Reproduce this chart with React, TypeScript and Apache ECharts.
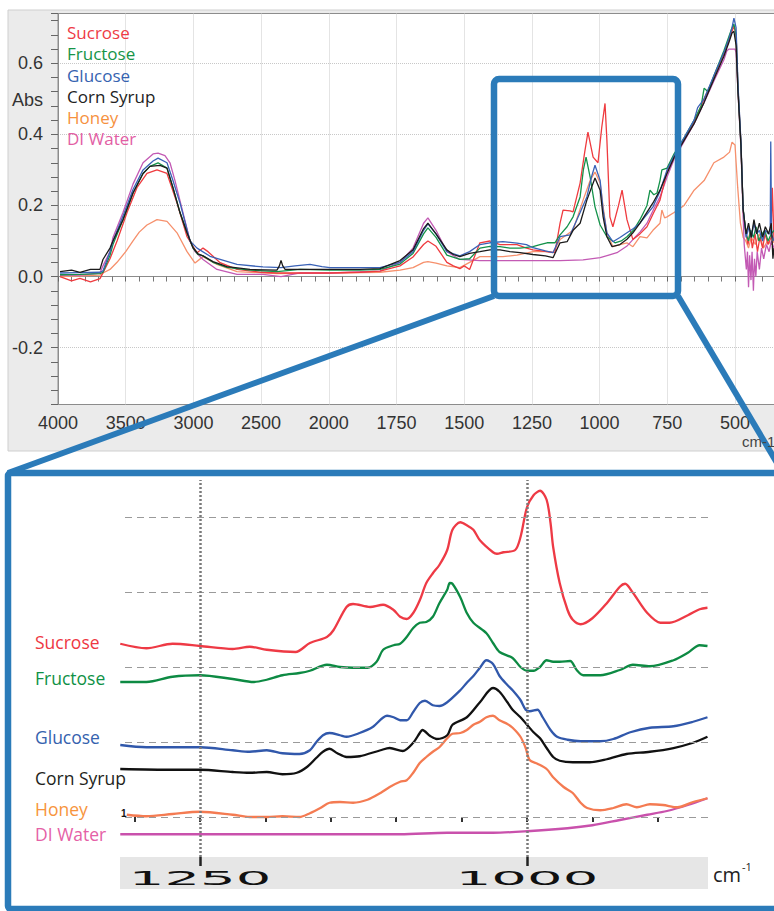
import React, { useEffect, useRef } from 'react';
import * as echarts from 'echarts';

type Pt = [number, number];

// ---------- Top (full spectrum) data: [wavenumber cm-1, Abs] ----------
const TOP_X_TICK_LABELS = [4000, 3500, 3000, 2500, 2000, 1750, 1500, 1250, 1000, 750, 500];

const TOP_SUCROSE: Pt[] = [
  [3985, 0.0], [3900, -0.012], [3838, -0.005], [3760, -0.015], [3690, -0.006], [3668, 0.01], [3616, 0.05], [3564, 0.10],
  [3490, 0.18], [3417, 0.25], [3343, 0.29], [3269, 0.30], [3195, 0.29], [3121, 0.207], [3047, 0.112], [2973, 0.067],
  [2929, 0.08], [2892, 0.07], [2803, 0.039], [2678, 0.02], [2500, 0.012], [2383, 0.01], [2212, 0.01], [1996, 0.01],
  [1885, 0.012], [1811, 0.015], [1737, 0.03], [1689, 0.055], [1650, 0.09], [1634, 0.10], [1604, 0.085], [1564, 0.04],
  [1540, 0.03], [1516, 0.022], [1500, 0.03], [1480, 0.02], [1460, 0.06], [1442, 0.095], [1405, 0.1], [1368, 0.09],
  [1331, 0.09], [1305, 0.09], [1270, 0.08], [1246, 0.075], [1194, 0.07], [1165, 0.067], [1146, 0.15], [1135, 0.187],
  [1109, 0.185], [1098, 0.182], [1072, 0.263], [1055, 0.35], [1043, 0.406], [1024, 0.336], [1006, 0.32], [992, 0.42],
  [980, 0.487], [973, 0.383], [962, 0.168], [951, 0.14], [930, 0.2], [917, 0.243], [899, 0.16], [877, 0.104],
  [851, 0.12], [825, 0.14], [800, 0.18], [777, 0.215], [751, 0.295], [725, 0.335], [688, 0.385], [651, 0.435],
  [614, 0.50], [578, 0.56], [541, 0.625], [511, 0.69], [504, 0.705], [496, 0.68], [489, 0.53], [478, 0.375],
  [470, 0.187], [459, 0.12], [452, 0.09], [444, 0.13], [436, 0.08], [426, 0.12], [417, 0.07], [408, 0.11],
  [398, 0.08], [389, 0.12], [378, 0.09], [367, 0.11], [362, 0.25], [356, 0.1],
];

const TOP_FRUCTOSE: Pt[] = [
  [3985, 0.005], [3838, 0.006], [3690, 0.008], [3668, 0.012], [3616, 0.06], [3594, 0.09], [3520, 0.16], [3446, 0.235],
  [3372, 0.29], [3321, 0.31], [3261, 0.32], [3195, 0.305], [3151, 0.25], [3099, 0.18], [3047, 0.123], [3003, 0.081],
  [2966, 0.062], [2929, 0.058], [2855, 0.04], [2752, 0.026], [2582, 0.018], [2383, 0.014], [2212, 0.02], [1996, 0.018],
  [1885, 0.018], [1811, 0.02], [1737, 0.035], [1689, 0.065], [1650, 0.12], [1634, 0.137], [1604, 0.11], [1564, 0.06],
  [1516, 0.048], [1480, 0.05], [1442, 0.08], [1405, 0.085], [1368, 0.084], [1331, 0.08], [1294, 0.08], [1246, 0.084],
  [1220, 0.09], [1194, 0.095], [1165, 0.095], [1146, 0.117], [1120, 0.14], [1098, 0.168], [1072, 0.224], [1060, 0.30],
  [1050, 0.336], [1035, 0.28], [1017, 0.196], [998, 0.145], [973, 0.112], [943, 0.095], [920, 0.10], [899, 0.112],
  [875, 0.13], [851, 0.16], [825, 0.20], [814, 0.243], [800, 0.23], [788, 0.235], [777, 0.27], [770, 0.30],
  [751, 0.305], [725, 0.345], [688, 0.39], [651, 0.44], [625, 0.48], [614, 0.53], [600, 0.52], [578, 0.565],
  [541, 0.635], [511, 0.70], [504, 0.71], [496, 0.68], [489, 0.53], [478, 0.37], [470, 0.19], [459, 0.12],
  [450, 0.10], [442, 0.13], [432, 0.11], [422, 0.14], [412, 0.10], [400, 0.12], [390, 0.13], [378, 0.10],
  [366, 0.12], [356, 0.13],
];

const TOP_GLUCOSE: Pt[] = [
  [3985, 0.01], [3838, 0.011], [3690, 0.012], [3668, 0.016], [3616, 0.07], [3594, 0.1], [3520, 0.17], [3446, 0.245],
  [3372, 0.30], [3298, 0.325], [3261, 0.333], [3195, 0.32], [3151, 0.27], [3099, 0.207], [3025, 0.10], [2973, 0.08],
  [2877, 0.057], [2678, 0.034], [2486, 0.027], [2353, 0.025], [2250, 0.03], [2139, 0.034], [2050, 0.028], [1996, 0.025],
  [1811, 0.025], [1737, 0.04], [1689, 0.07], [1650, 0.13], [1634, 0.148], [1604, 0.12], [1564, 0.07], [1516, 0.058],
  [1480, 0.07], [1442, 0.09], [1405, 0.095], [1357, 0.098], [1305, 0.094], [1270, 0.09], [1246, 0.081], [1200, 0.072],
  [1172, 0.067], [1146, 0.112], [1109, 0.117], [1072, 0.18], [1047, 0.224], [1030, 0.28], [1017, 0.313], [998, 0.27],
  [987, 0.187], [973, 0.123], [951, 0.098], [925, 0.11], [899, 0.123], [875, 0.135], [851, 0.15], [803, 0.196],
  [777, 0.24], [751, 0.30], [725, 0.34], [688, 0.39], [651, 0.44], [638, 0.475], [614, 0.50], [578, 0.565],
  [541, 0.63], [522, 0.67], [511, 0.70], [504, 0.727], [496, 0.70], [489, 0.54], [478, 0.38], [470, 0.19],
  [459, 0.11], [448, 0.14], [440, 0.11], [430, 0.15], [420, 0.12], [410, 0.13], [398, 0.10], [388, 0.13],
  [376, 0.12], [370, 0.12], [368, 0.38], [365, 0.12], [356, 0.10],
];

const TOP_CORN_SYRUP: Pt[] = [
  [3985, 0.014], [3900, 0.018], [3838, 0.012], [3760, 0.02], [3690, 0.02], [3668, 0.048], [3616, 0.08], [3594, 0.10],
  [3520, 0.16], [3446, 0.235], [3372, 0.29], [3321, 0.31], [3247, 0.313], [3195, 0.305], [3151, 0.25], [3099, 0.18],
  [3047, 0.123], [3003, 0.081], [2966, 0.064], [2929, 0.058], [2855, 0.042], [2752, 0.028], [2582, 0.02], [2383, 0.018],
  [2365, 0.03], [2353, 0.045], [2340, 0.03], [2323, 0.02], [2212, 0.02], [1996, 0.02], [1885, 0.02], [1811, 0.022],
  [1737, 0.045], [1689, 0.075], [1650, 0.135], [1634, 0.15], [1604, 0.12], [1564, 0.075], [1540, 0.062], [1516, 0.056],
  [1480, 0.065], [1442, 0.07], [1405, 0.075], [1368, 0.075], [1331, 0.07], [1294, 0.067], [1246, 0.062], [1200, 0.058],
  [1172, 0.053], [1146, 0.095], [1120, 0.098], [1098, 0.13], [1072, 0.15], [1047, 0.215], [1017, 0.277], [998, 0.243],
  [987, 0.168], [973, 0.112], [954, 0.084], [925, 0.09], [899, 0.105], [877, 0.123], [851, 0.15], [803, 0.207],
  [777, 0.243], [751, 0.29], [725, 0.335], [688, 0.383], [651, 0.43], [614, 0.49], [578, 0.555], [541, 0.62],
  [522, 0.66], [511, 0.685], [504, 0.69], [496, 0.65], [489, 0.52], [478, 0.37], [470, 0.19], [459, 0.12],
  [450, 0.15], [440, 0.11], [430, 0.16], [420, 0.12], [410, 0.15], [398, 0.11], [388, 0.14], [376, 0.12],
  [366, 0.15], [360, 0.05], [356, 0.08],
];

const TOP_HONEY: Pt[] = [
  [3985, 0.0], [3838, 0.002], [3690, 0.004], [3668, 0.01], [3616, 0.02], [3564, 0.04], [3500, 0.07], [3446, 0.10],
  [3400, 0.125], [3343, 0.145], [3269, 0.16], [3195, 0.155], [3121, 0.123], [3047, 0.07], [2988, 0.038], [2929, 0.056],
  [2880, 0.045], [2826, 0.034], [2678, 0.014], [2383, 0.008], [1996, 0.01], [1811, 0.012], [1737, 0.018], [1689, 0.025],
  [1650, 0.04], [1634, 0.042], [1604, 0.038], [1564, 0.03], [1516, 0.025], [1480, 0.04], [1442, 0.056], [1357, 0.056],
  [1305, 0.06], [1246, 0.07], [1200, 0.07], [1172, 0.067], [1146, 0.104], [1098, 0.13], [1061, 0.215], [1035, 0.27],
  [1017, 0.294], [998, 0.263], [987, 0.196], [973, 0.123], [951, 0.084], [925, 0.09], [899, 0.095], [877, 0.084],
  [851, 0.112], [825, 0.109], [803, 0.13], [777, 0.15], [770, 0.187], [760, 0.165], [751, 0.168], [725, 0.18],
  [688, 0.20], [651, 0.243], [614, 0.27], [578, 0.32], [541, 0.336], [520, 0.35], [511, 0.378], [500, 0.37],
  [490, 0.25], [480, 0.15], [470, 0.11], [460, 0.10], [450, 0.08], [440, 0.11], [425, 0.09], [410, 0.12],
  [395, 0.08], [380, 0.10], [365, 0.09], [356, 0.1],
];

const TOP_DI_WATER: Pt[] = [
  [3985, 0.003], [3838, 0.004], [3690, 0.01], [3668, 0.03], [3616, 0.07], [3594, 0.11], [3520, 0.18], [3446, 0.26],
  [3372, 0.32], [3298, 0.345], [3261, 0.347], [3210, 0.34], [3173, 0.32], [3136, 0.27], [3077, 0.18], [3025, 0.10],
  [2988, 0.07], [2929, 0.048], [2826, 0.02], [2678, 0.006], [2486, 0.006], [2353, 0.0], [2212, 0.01], [1996, 0.01],
  [1811, 0.015], [1737, 0.04], [1689, 0.08], [1650, 0.15], [1634, 0.165], [1604, 0.13], [1564, 0.07], [1516, 0.048],
  [1442, 0.045], [1305, 0.045], [1146, 0.045], [1061, 0.047], [998, 0.053], [936, 0.067], [900, 0.085], [877, 0.104],
  [851, 0.125], [825, 0.15], [800, 0.19], [777, 0.224], [751, 0.28], [725, 0.33], [688, 0.38], [651, 0.43],
  [614, 0.49], [578, 0.55], [541, 0.61], [530, 0.635], [522, 0.64], [500, 0.64], [496, 0.63], [489, 0.52],
  [478, 0.36], [470, 0.17], [466, 0.09], [458, 0.02], [454, 0.07], [450, -0.03], [446, 0.06], [441, -0.01],
  [437, 0.07], [432, -0.04], [428, 0.05], [423, 0.0], [418, 0.07], [410, 0.02], [402, 0.08], [394, 0.05],
  [384, 0.09], [374, 0.07], [366, 0.1], [356, 0.08],
];

// ---------- Bottom (zoomed, offset) data: [wavenumber cm-1, offset units] ----------
const ZOOM_X_TICKS = [1300, 1250, 1200, 1150, 1100, 1050, 1000, 950, 900];
const ZOOM_X_LABELS = [1250, 1000];
const ZOOM_OFFSET_LINES = [0, 1, 2, 3, 4];

const ZOOM_SUCROSE: Pt[] = [
  [1311, 2.31], [1291, 2.25], [1271, 2.31], [1250, 2.28], [1225, 2.24], [1212, 2.27], [1199, 2.23], [1177, 2.20],
  [1166, 2.32], [1153, 2.40], [1148, 2.49], [1138, 2.80], [1133, 2.84], [1120, 2.80], [1110, 2.83], [1102, 2.76],
  [1097, 2.67], [1092, 2.64], [1087, 2.72], [1082, 2.89], [1077, 3.12], [1072, 3.25], [1067, 3.36], [1061, 3.56],
  [1057, 3.83], [1051, 3.93], [1046, 3.89], [1041, 3.83], [1036, 3.69], [1026, 3.53], [1023, 3.51], [1018, 3.53],
  [1009, 3.56], [1005, 3.73], [1000, 4.13], [995, 4.29], [990, 4.35], [985, 4.23], [982, 3.92], [980, 3.60],
  [975, 3.12], [969, 2.76], [965, 2.63], [959, 2.57], [950, 2.65], [939, 2.85], [929, 3.07], [925, 3.11],
  [919, 2.99], [908, 2.72], [898, 2.59], [891, 2.59], [877, 2.69], [868, 2.77], [862, 2.79],
];

const ZOOM_FRUCTOSE: Pt[] = [
  [1311, 1.80], [1291, 1.80], [1271, 1.87], [1250, 1.89], [1225, 1.84], [1209, 1.80], [1199, 1.83], [1187, 1.89],
  [1174, 1.92], [1166, 1.95], [1153, 2.03], [1143, 2.00], [1133, 1.99], [1122, 1.99], [1115, 2.07], [1110, 2.23],
  [1102, 2.29], [1097, 2.31], [1092, 2.40], [1087, 2.52], [1082, 2.59], [1077, 2.60], [1072, 2.67], [1067, 2.85],
  [1061, 3.03], [1059, 3.12], [1057, 3.11], [1051, 2.93], [1046, 2.72], [1041, 2.59], [1031, 2.45], [1026, 2.32],
  [1021, 2.20], [1011, 2.12], [1005, 2.00], [1000, 1.95], [995, 1.95], [990, 2.00], [985, 2.09], [980, 2.07],
  [975, 2.07], [967, 2.08], [962, 1.96], [957, 1.89], [944, 1.89], [929, 1.96], [919, 2.03], [906, 2.01],
  [888, 2.09], [877, 2.19], [868, 2.29], [862, 2.28],
];

const ZOOM_GLUCOSE: Pt[] = [
  [1311, 0.96], [1291, 0.93], [1250, 0.93], [1225, 0.89], [1212, 0.87], [1199, 0.89], [1187, 0.85], [1174, 0.84],
  [1166, 0.89], [1161, 1.00], [1156, 1.09], [1151, 1.12], [1143, 1.09], [1138, 1.07], [1128, 1.12], [1118, 1.20],
  [1107, 1.35], [1102, 1.33], [1097, 1.29], [1092, 1.29], [1087, 1.40], [1082, 1.52], [1078, 1.55], [1072, 1.49],
  [1067, 1.48], [1061, 1.53], [1051, 1.69], [1046, 1.79], [1041, 1.88], [1036, 1.99], [1031, 2.09], [1026, 2.04],
  [1021, 1.88], [1015, 1.76], [1011, 1.69], [1005, 1.56], [1001, 1.43], [998, 1.41], [992, 1.43], [988, 1.33],
  [982, 1.16], [977, 1.07], [969, 1.03], [959, 1.01], [944, 1.01], [934, 1.04], [921, 1.13], [906, 1.19],
  [888, 1.21], [873, 1.27], [862, 1.33],
];

const ZOOM_CORN_SYRUP: Pt[] = [
  [1311, 0.64], [1271, 0.63], [1250, 0.63], [1225, 0.60], [1212, 0.59], [1199, 0.60], [1187, 0.57], [1176, 0.59],
  [1168, 0.67], [1161, 0.79], [1156, 0.87], [1151, 0.91], [1145, 0.85], [1138, 0.80], [1128, 0.81], [1112, 0.89],
  [1105, 0.92], [1095, 0.88], [1087, 0.99], [1082, 1.12], [1080, 1.16], [1074, 1.08], [1069, 1.04], [1061, 1.09],
  [1057, 1.23], [1046, 1.33], [1036, 1.53], [1026, 1.72], [1021, 1.67], [1015, 1.53], [1011, 1.43], [1005, 1.33],
  [1000, 1.23], [995, 1.13], [990, 1.05], [985, 0.92], [980, 0.80], [975, 0.75], [965, 0.73], [952, 0.73],
  [939, 0.77], [924, 0.84], [906, 0.87], [888, 0.92], [873, 0.99], [862, 1.07],
];

const ZOOM_HONEY: Pt[] = [
  [1306, 0.03], [1291, 0.01], [1271, 0.04], [1250, 0.07], [1225, 0.03], [1212, 0.0], [1199, 0.0], [1187, 0.01],
  [1174, 0.0], [1166, 0.05], [1158, 0.12], [1151, 0.19], [1143, 0.20], [1133, 0.19], [1122, 0.23], [1112, 0.32],
  [1105, 0.40], [1097, 0.47], [1092, 0.49], [1087, 0.59], [1082, 0.72], [1077, 0.80], [1072, 0.87], [1067, 0.93],
  [1061, 1.05], [1057, 1.11], [1051, 1.12], [1046, 1.16], [1041, 1.23], [1036, 1.27], [1031, 1.33], [1026, 1.35],
  [1021, 1.29], [1015, 1.24], [1011, 1.19], [1005, 1.07], [1001, 0.92], [998, 0.76], [992, 0.71], [985, 0.64],
  [980, 0.53], [972, 0.40], [965, 0.32], [959, 0.19], [954, 0.12], [944, 0.09], [934, 0.12], [924, 0.17],
  [916, 0.13], [906, 0.17], [896, 0.16], [885, 0.13], [873, 0.20], [862, 0.25],
];

const ZOOM_DI_WATER: Pt[] = [
  [1311, -0.23], [1250, -0.23], [1174, -0.23], [1097, -0.23], [1061, -0.21], [1026, -0.21], [1000, -0.19],
  [969, -0.15], [950, -0.11], [929, -0.04], [908, 0.03], [893, 0.08], [877, 0.16], [862, 0.25],
];

// ---------- styling ----------
const NARROW = '"Liberation Sans Narrow", "Arial Narrow", "Liberation Sans", sans-serif';
const LABEL_FONT = '"Open Sans", "Noto Sans", sans-serif';
const BLUE = '#2b7bb9';

const TOP_LINES = [
  { name: 'Honey', data: TOP_HONEY, color: '#f6906c' },
  { name: 'DI Water', data: TOP_DI_WATER, color: '#c35ab4' },
  { name: 'Sucrose', data: TOP_SUCROSE, color: '#ef3b3f' },
  { name: 'Fructose', data: TOP_FRUCTOSE, color: '#14924a' },
  { name: 'Glucose', data: TOP_GLUCOSE, color: '#3a62b7' },
  { name: 'Corn Syrup', data: TOP_CORN_SYRUP, color: '#1b1b1b' },
];

const ZOOM_LINES = [
  { name: 'DI Water', data: ZOOM_DI_WATER, color: '#c951ac' },
  { name: 'Honey', data: ZOOM_HONEY, color: '#f47b52' },
  { name: 'Corn Syrup', data: ZOOM_CORN_SYRUP, color: '#111111' },
  { name: 'Glucose', data: ZOOM_GLUCOSE, color: '#3158ab' },
  { name: 'Fructose', data: ZOOM_FRUCTOSE, color: '#0d8a43' },
  { name: 'Sucrose', data: ZOOM_SUCROSE, color: '#ee3a45' },
];

const TOP_LEGEND = [
  { text: 'Sucrose', color: '#ee3b45', y: 32 },
  { text: 'Fructose', color: '#169447', y: 53 },
  { text: 'Glucose', color: '#3563b0', y: 75 },
  { text: 'Corn Syrup', color: '#222222', y: 96 },
  { text: 'Honey', color: '#f6913e', y: 117 },
  { text: 'DI Water', color: '#e25ea4', y: 138 },
];

const ZOOM_LABELS = [
  { text: 'Sucrose', color: '#ee3742', y: 642 },
  { text: 'Fructose', color: '#0f9146', y: 678 },
  { text: 'Glucose', color: '#3562ae', y: 737 },
  { text: 'Corn Syrup', color: '#231f20', y: 778 },
  { text: 'Honey', color: '#f7943c', y: 809 },
  { text: 'DI Water', color: '#e560a6', y: 834 },
];

// piecewise wavenumber axis (500 cm-1 per division above 2000, 250 below)
const toAxisPos = (w: number) => (w >= 2000 ? (4000 - w) / 500 : 4 + (2000 - w) / 250);

const ZOOM_Y_MIN = -0.5333;
const ZOOM_Y_MAX = 4.4933;

function txt(text: string, x: number, y: number, opts: any = {}) {
  const fs = opts.fontSize ?? 17;
  return {
    type: 'text',
    x,
    y,
    z: opts.z ?? 60,
    silent: true,
    style: {
      text,
      fill: opts.color ?? '#333',
      fontSize: fs,
      lineHeight: opts.lineHeight ?? fs,
      fontFamily: opts.fontFamily ?? LABEL_FONT,
      fontWeight: opts.fontWeight ?? 'normal',
      textAlign: opts.align ?? 'left',
      align: opts.align ?? 'left',
      textVerticalAlign: 'middle',
      verticalAlign: 'middle',
    },
  };
}

export default function App() {
  const ref = useRef<HTMLDivElement>(null);

  useEffect(() => {
    if (!ref.current) return;
    const chart = echarts.init(ref.current, undefined, { renderer: 'svg' });

    const isStep = (v: number) => Math.abs(v / 0.2 - Math.round(v / 0.2)) < 1e-6;

    const topSeries = TOP_LINES.map((s) => ({
      type: 'line',
      name: s.name,
      xAxisIndex: 0,
      yAxisIndex: 0,
      symbol: 'none',
      showSymbol: false,
      silent: true,
      z: 3,
      data: s.data.map(([w, a]) => [toAxisPos(w), a]),
      lineStyle: { color: s.color, width: 1.3 },
      itemStyle: { color: s.color },
    }));

    const zoomSeries: any[] = ZOOM_LINES.map((s, i) => ({
      type: 'line',
      name: s.name,
      xAxisIndex: 1,
      yAxisIndex: 1,
      symbol: 'none',
      showSymbol: false,
      silent: true,
      smooth: 0.3,
      z: 3,
      data: s.data,
      lineStyle: { color: s.color, width: 2.3 },
      itemStyle: { color: s.color },
      markLine:
        i === 0
          ? {
              silent: true,
              symbol: ['none', 'none'],
              label: { show: false },
              data: [
                ...ZOOM_OFFSET_LINES.map((v) => ({
                  yAxis: v,
                  lineStyle: { type: [7, 5], color: '#9a9a9a', width: 1 },
                })),
                ...ZOOM_X_LABELS.map((v) => ({
                  xAxis: v,
                  lineStyle: { type: [2, 2], color: '#7a7a7a', width: 2.5 },
                })),
              ],
            }
          : undefined,
    }));

    zoomSeries.push({
      type: 'custom',
      xAxisIndex: 1,
      yAxisIndex: 1,
      silent: true,
      clip: false,
      z: 5,
      data: ZOOM_X_LABELS.map((v) => [v, ZOOM_Y_MIN]),
      renderItem: (_p: any, api: any) => {
        const pt = api.coord([api.value(0), api.value(1)]);
        return {
          type: 'text',
          x: pt[0],
          y: pt[1] + 21,
          scaleX: 2.95,
          style: {
            text: String(api.value(0)),
            fill: '#111',
            fontSize: 19,
            fontFamily: '"DejaVu Sans", sans-serif',
            textAlign: 'center',
            align: 'center',
            textVerticalAlign: 'middle',
            verticalAlign: 'middle',
          },
        };
      },
    });

    const graphics: any[] = [
      {
        type: 'rect',
        z: -100,
        silent: true,
        shape: { x: 8, y: 10, width: 800, height: 441 },
        style: { fill: '#ebebeb', stroke: '#cfcfcf', lineWidth: 1 },
      },
      {
        type: 'rect',
        z: -50,
        silent: true,
        shape: { x: 120, y: 857, width: 588, height: 32 },
        style: { fill: '#e6e6e6' },
      },
      txt('Abs', 43, 100, { fontFamily: NARROW, fontSize: 18, align: 'right', color: '#333' }),
      txt('cm-1', 742, 441, { fontFamily: NARROW, fontSize: 15, color: '#444', z: 120 }),
      ...TOP_LEGEND.map((l) => txt(l.text, 67, l.y, { color: l.color, fontSize: 17 })),
      ...ZOOM_LABELS.map((l) => txt(l.text, 35, l.y, { color: l.color, fontSize: 17.5 })),
      txt('1', 121, 813, { color: '#111', fontSize: 10, fontWeight: 'bold', fontFamily: '"Liberation Sans", sans-serif' }),
      txt('cm', 713, 874, { color: '#222', fontSize: 20 }),
      txt('-1', 742, 866, { color: '#222', fontSize: 11 }),
      {
        type: 'rect',
        z: 100,
        silent: true,
        shape: { x: 494, y: 79, width: 184, height: 217, r: 5 },
        style: { fill: 'none', stroke: BLUE, lineWidth: 6.5 },
      },
      {
        type: 'line',
        z: 100,
        silent: true,
        shape: { x1: 494, y1: 296, x2: 8, y2: 473 },
        style: { stroke: BLUE, lineWidth: 6 },
      },
      {
        type: 'line',
        z: 100,
        silent: true,
        shape: { x1: 678, y1: 296, x2: 783, y2: 473 },
        style: { stroke: BLUE, lineWidth: 6 },
      },
      {
        type: 'rect',
        z: 100,
        silent: true,
        shape: { x: 8, y: 473, width: 800, height: 436, r: 3 },
        style: { fill: 'none', stroke: BLUE, lineWidth: 6.5 },
      },
    ];

    const option: any = {
      animation: false,
      backgroundColor: '#ffffff',
      grid: [
        {
          left: 58,
          top: 13.5,
          width: 744.7,
          height: 391,
          show: true,
          backgroundColor: '#ffffff',
          borderColor: '#8c8c8c',
          borderWidth: 1,
        },
        { left: 120, top: 480, width: 588, height: 377, show: false },
      ],
      xAxis: [
        {
          gridIndex: 0,
          type: 'value',
          min: 0,
          max: 11,
          interval: 1,
          axisLine: { show: true, lineStyle: { color: '#8c8c8c' } },
          axisTick: { show: true, inside: false, length: 5, lineStyle: { color: '#666' } },
          minorTick: { show: true, splitNumber: 5, length: 5, lineStyle: { color: '#777' } },
          axisLabel: {
            showMinLabel: true,
            margin: 9,
            color: '#333',
            fontSize: 18,
            fontFamily: NARROW,
            formatter: (v: number) => {
              const i = Math.round(v);
              return Math.abs(v - i) < 1e-6 && TOP_X_TICK_LABELS[i] !== undefined ? String(TOP_X_TICK_LABELS[i]) : '';
            },
          },
          splitLine: { show: true, lineStyle: { color: '#c8c8c8', type: 'dotted' } },
        },
        {
          gridIndex: 1,
          type: 'value',
          inverse: true,
          min: 861.6,
          max: 1311.2,
          axisLine: { show: false },
          axisTick: { show: true, inside: false, length: 5, customValues: ZOOM_X_TICKS, lineStyle: { color: '#333', width: 2 } },
          axisLabel: { show: false },
          splitLine: { show: false },
        },
        {
          gridIndex: 1,
          type: 'value',
          inverse: true,
          position: 'bottom',
          min: 861.6,
          max: 1311.2,
          axisLine: { show: false },
          axisTick: { show: true, inside: false, length: 9, customValues: ZOOM_X_LABELS, lineStyle: { color: '#222', width: 2.5 } },
          axisLabel: { show: false },
          splitLine: { show: false },
        },
      ],
      yAxis: [
        {
          gridIndex: 0,
          type: 'value',
          min: -0.36,
          max: 0.74,
          interval: 0.04,
          axisLine: { show: true, lineStyle: { color: '#8c8c8c' } },
          axisTick: { show: true, inside: false, length: 7, lineStyle: { color: '#666' } },
          axisLabel: {
            margin: 15,
            color: '#333',
            fontSize: 18,
            fontFamily: NARROW,
            formatter: (v: number) => (isStep(v) ? (Math.abs(v) < 1e-9 ? '0.0' : v.toFixed(1)) : ''),
          },
          splitLine: {
            show: true,
            lineStyle: {
              color: ['rgba(0,0,0,0)', 'rgba(0,0,0,0)', 'rgba(0,0,0,0)', 'rgba(0,0,0,0)', '#c8c8c8'],
              type: 'dotted',
            },
          },
        },
        {
          gridIndex: 1,
          type: 'value',
          min: ZOOM_Y_MIN,
          max: ZOOM_Y_MAX,
          show: false,
        },
      ],
      graphic: { elements: graphics },
      series: [...topSeries, ...zoomSeries],
    };

    chart.setOption(option);
    return () => chart.dispose();
  }, []);

  return (
    <div
      style={{
        position: 'absolute',
        left: 0,
        top: 0,
        width: 774,
        height: 911,
        overflow: 'hidden',
        background: '#fff',
      }}
    >
      <div ref={ref} style={{ width: 830, height: 911 }} />
    </div>
  );
}
